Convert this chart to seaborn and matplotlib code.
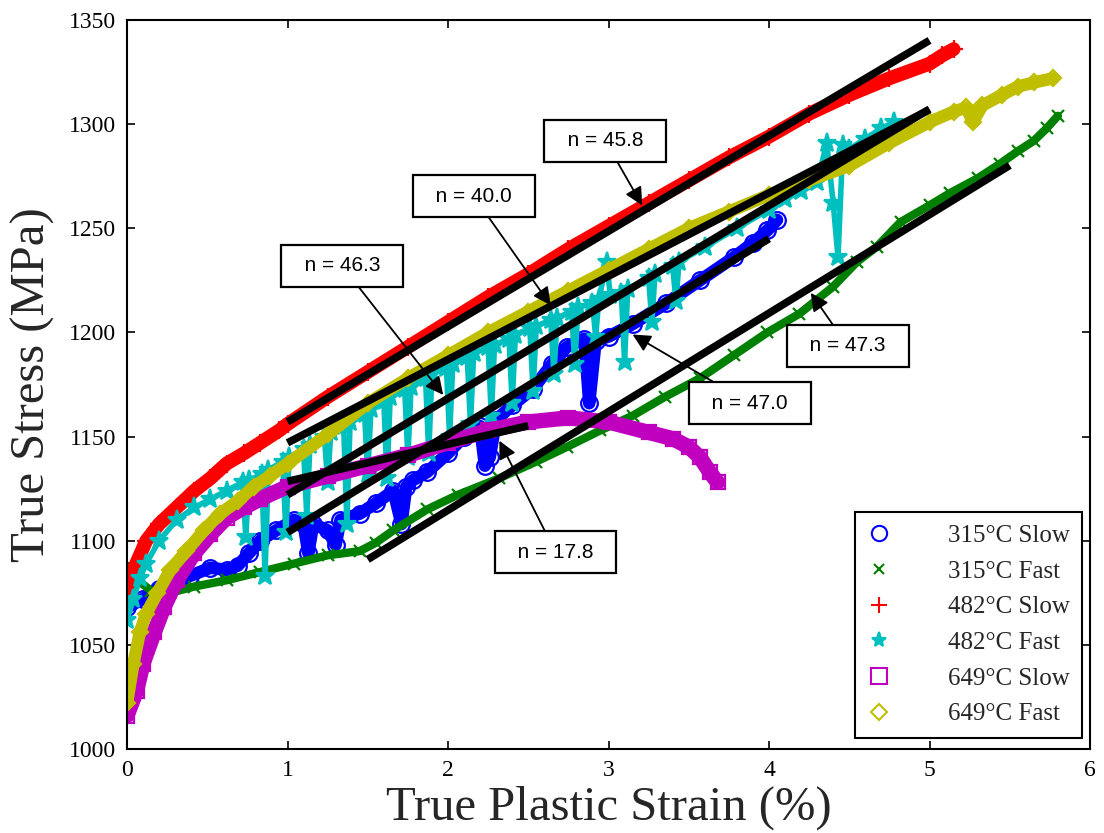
import matplotlib
matplotlib.use("Agg")
import matplotlib.pyplot as plt
from matplotlib.lines import Line2D
import numpy as np
import pandas as pd
import seaborn as sns

# ---------------------------------------------------------------------------
# Stress-strain data (true plastic strain in %, true stress in MPa)
# ---------------------------------------------------------------------------
s315_slow_x = [0.00, 0.10, 0.20, 0.30, 0.39, 0.52, 0.62, 0.69, 0.76, 0.83, 0.93, 1.04,
               1.10, 1.13, 1.16, 1.25, 1.30, 1.33, 1.45, 1.55, 1.66, 1.71, 1.74, 1.78,
               1.87, 2.00, 2.10, 2.20, 2.23, 2.26, 2.30, 2.40, 2.53, 2.65, 2.74, 2.85,
               2.88, 2.92, 3.00, 3.15, 3.36, 3.57, 3.78, 3.90, 3.99, 4.05]
s315_slow_y = [1068, 1072, 1077, 1080, 1083, 1087, 1086, 1088, 1094, 1100, 1105, 1110,
               1108, 1094, 1108, 1105, 1098, 1110, 1113, 1118, 1124, 1108, 1126, 1129,
               1133, 1142, 1150, 1155, 1136, 1140, 1158, 1165, 1173, 1185, 1193, 1197,
               1166, 1196, 1198, 1204, 1214, 1225, 1236, 1243, 1249, 1254]

s315_fast_x = [0.00, 0.05, 0.15, 0.27, 0.42, 0.62, 0.83, 1.04, 1.25, 1.45, 1.55, 1.66,
               1.87, 2.06, 2.32, 2.55, 2.74, 2.95, 3.15, 3.35, 3.57, 3.78, 3.99, 4.19,
               4.40, 4.55, 4.67, 4.82, 5.00, 5.13, 5.30, 5.44, 5.55, 5.65, 5.73, 5.80]
s315_fast_y = [1088, 1082, 1076, 1075, 1078, 1081, 1085, 1089, 1093, 1095, 1099, 1105,
               1115, 1122, 1130, 1138, 1145, 1153, 1160, 1169, 1178, 1189, 1200, 1209,
               1222, 1234, 1241, 1253, 1261, 1267, 1274, 1281, 1287, 1292, 1298, 1304]

s482_slow_x = [0.00, 0.04, 0.12, 0.20, 0.31, 0.42, 0.52, 0.62, 0.73, 0.83, 0.95, 1.00,
               1.25, 1.50, 1.75, 2.00, 2.25, 2.50, 2.75, 3.00, 3.25, 3.50, 3.75, 4.00,
               4.25, 4.50, 4.75, 5.00, 5.08, 5.15]
s482_slow_y = [1075, 1086, 1100, 1108, 1116, 1124, 1130, 1137, 1142, 1147, 1153, 1156,
               1169, 1181, 1193, 1205, 1217, 1228, 1240, 1251, 1262, 1273, 1284, 1294,
               1305, 1314, 1322, 1329, 1333, 1336]

s482_fast_x = [0.00, 0.04, 0.08, 0.12, 0.20, 0.31, 0.42, 0.52, 0.62, 0.72, 0.74, 0.76,
               0.84, 0.86, 0.88, 0.97, 0.99, 1.01, 1.10, 1.12, 1.14, 1.23, 1.25, 1.27,
               1.35, 1.37, 1.39, 1.48, 1.50, 1.52, 1.60, 1.62, 1.64, 1.73, 1.75, 1.77,
               1.86, 1.88, 1.90, 1.99, 2.01, 2.03, 2.12, 2.14, 2.16, 2.25, 2.27, 2.29,
               2.38, 2.40, 2.42, 2.51, 2.53, 2.55, 2.64, 2.66, 2.68, 2.77, 2.79, 2.81,
               2.90, 2.92, 2.94, 2.99, 3.01, 3.08, 3.10, 3.12, 3.25, 3.27, 3.29, 3.40,
               3.42, 3.44, 3.60, 3.80, 4.00, 4.10, 4.20, 4.30, 4.36, 4.40, 4.43, 4.46,
               4.50, 4.60, 4.70, 4.78]
s482_fast_y = [1062, 1072, 1082, 1089, 1100, 1110, 1116, 1120, 1124, 1128, 1102, 1129,
               1132, 1083, 1134, 1138, 1104, 1140, 1144, 1112, 1146, 1150, 1128, 1152,
               1155, 1108, 1157, 1161, 1132, 1163, 1167, 1130, 1169, 1173, 1140, 1174,
               1178, 1142, 1180, 1183, 1150, 1185, 1188, 1156, 1190, 1193, 1160, 1194,
               1197, 1166, 1199, 1202, 1172, 1203, 1206, 1180, 1207, 1210, 1185, 1212,
               1214, 1198, 1216, 1234, 1218, 1219, 1186, 1221, 1226, 1205, 1228, 1232,
               1215, 1234, 1241, 1250, 1259, 1264, 1268, 1272, 1291, 1262, 1236, 1290,
               1288, 1293, 1298, 1301]

s649_slow_x = [0.00, 0.06, 0.10, 0.17, 0.23, 0.31, 0.42, 0.52, 0.62, 0.73, 0.83, 1.00,
               1.25, 1.50, 1.75, 2.00, 2.25, 2.50, 2.75, 3.00, 3.25, 3.40, 3.50, 3.57,
               3.63, 3.68]
s649_slow_y = [1016, 1028, 1041, 1056, 1068, 1081, 1094, 1103, 1111, 1116, 1120, 1126,
               1131, 1136, 1141, 1147, 1153, 1157, 1159, 1157, 1152, 1149, 1145, 1140,
               1133, 1128]

s649_fast_x = [0.00, 0.04, 0.08, 0.12, 0.19, 0.27, 0.37, 0.48, 0.58, 0.69, 0.79, 0.89,
               1.00, 1.25, 1.50, 1.75, 2.00, 2.25, 2.50, 2.75, 3.00, 3.25, 3.50, 3.75,
               4.00, 4.25, 4.50, 4.75, 5.00, 5.15, 5.23, 5.27, 5.33, 5.45, 5.55, 5.65,
               5.77]
s649_fast_y = [1022, 1041, 1056, 1065, 1075, 1086, 1095, 1105, 1113, 1119, 1126, 1131,
               1137, 1151, 1166, 1178, 1189, 1200, 1210, 1220, 1230, 1240, 1250, 1258,
               1266, 1273, 1280, 1291, 1301, 1306, 1308, 1301, 1309, 1314, 1318, 1320,
               1322]

series_labels = ["315°C Slow", "315°C Fast", "482°C Slow",
                 "482°C Fast", "649°C Slow", "649°C Fast"]

# Linear hardening fits: strain range, stress at start, slope n (MPa per %)
fit_labels = ["482°C Slow", "649°C Fast", "482°C Fast",
              "315°C Slow", "649°C Slow", "315°C Fast"]
fit_x0 = [1.0, 1.0, 1.0, 1.0, 1.0, 1.5]
fit_x1 = [5.0, 5.0, 5.0, 4.0, 2.5, 5.5]
fit_y0 = [1157, 1147, 1122, 1104, 1128.5, 1091]
fit_n = [45.8, 40.0, 46.3, 47.0, 17.8, 47.3]

# Callouts: arrow tip (x, y) and box centre (x, y)
note_tip_x = [3.21, 2.64, 1.97, 3.15, 2.32, 4.26]
note_tip_y = [1261, 1213, 1170, 1199, 1148, 1219]
note_box_x = [2.98, 2.16, 1.34, 3.88, 2.67, 4.49]
note_box_y = [1292, 1265.5, 1232, 1166, 1094.5, 1193.5]

# ---------------------------------------------------------------------------
sns.set_theme(style="ticks")
plt.rcParams["font.family"] = ["Liberation Serif", "DejaVu Serif"]
plt.rcParams["axes.edgecolor"] = "black"
plt.rcParams["xtick.color"] = "black"
plt.rcParams["ytick.color"] = "black"

xs = [s315_slow_x, s315_fast_x, s482_slow_x, s482_fast_x, s649_slow_x, s649_fast_x]
ys = [s315_slow_y, s315_fast_y, s482_slow_y, s482_fast_y, s649_slow_y, s649_fast_y]
frames = []
for lab, x, y in zip(series_labels, xs, ys):
    frames.append(pd.DataFrame({"strain": x, "stress": y, "series": lab,
                                "idx": np.arange(len(x))}))
data = pd.concat(frames, ignore_index=True)

colors = {
    "315°C Slow": (0.0, 0.0, 1.0),
    "315°C Fast": (0.0, 0.5, 0.0),
    "482°C Slow": (1.0, 0.0, 0.0),
    "482°C Fast": (0.0, 0.75, 0.75),
    "649°C Slow": (0.75, 0.0, 0.75),
    "649°C Fast": (0.75, 0.75, 0.0),
}
markers = {
    "315°C Slow": "o", "315°C Fast": "x", "482°C Slow": "+",
    "482°C Fast": "*", "649°C Slow": "s", "649°C Fast": "D",
}
band_lw = {
    "315°C Slow": 9, "315°C Fast": 6, "482°C Slow": 10,
    "482°C Fast": 4, "649°C Slow": 11, "649°C Fast": 9,
}
marker_size = {
    "315°C Slow": 12, "315°C Fast": 9, "482°C Slow": 13,
    "482°C Fast": 14, "649°C Slow": 10, "649°C Fast": 8,
}
legend_size = {
    "315°C Slow": 11, "315°C Fast": 7, "482°C Slow": 12,
    "482°C Fast": 11, "649°C Slow": 11, "649°C Fast": 8,
}
hollow = {"o", "s", "D"}

fig = plt.figure(figsize=(11.04, 8.33), dpi=100)
ax = fig.add_axes([127 / 1104, 84 / 833, 963 / 1104, 729 / 833])

for lab in series_labels:
    sub = data[data["series"] == lab]
    c = colors[lab]
    m = markers[lab]
    sns.lineplot(data=sub, x="strain", y="stress", ax=ax, sort=False,
                 estimator=None, color=c, lw=band_lw[lab], legend=False,
                 marker=m, markersize=marker_size[lab],
                 markerfacecolor="none" if m in hollow else c,
                 markeredgecolor=c, markeredgewidth=1.6,
                 solid_capstyle="round", solid_joinstyle="round")

# Linear fits
for x0, x1, y0, n in zip(fit_x0, fit_x1, fit_y0, fit_n):
    fx = [x0, x1]
    fy = [y0, y0 + n * (x1 - x0)]
    sns.lineplot(x=fx, y=fy, ax=ax, color="black", lw=5.5, legend=False,
                 solid_capstyle="butt")

# Callouts stating the fitted slopes
for n, tx, ty, bx, by in zip(fit_n, note_tip_x, note_tip_y, note_box_x, note_box_y):
    ax.annotate(f"  n = {n:.1f}  ", xy=(tx, ty), xytext=(bx, by),
                ha="center", va="center", fontsize=15,
                family=["Liberation Sans", "DejaVu Sans"], color="black",
                bbox=dict(boxstyle="square,pad=0.55", fc="white", ec="black", lw=1.6),
                arrowprops=dict(arrowstyle="-|>", color="black", lw=1.3,
                                mutation_scale=27, shrinkA=0, shrinkB=0),
                zorder=10)

ax.set_xlim(0, 6)
ax.set_ylim(1000, 1350)
ax.set_xticks(range(0, 7))
ax.set_yticks(range(1000, 1351, 50))
ax.tick_params(direction="in", length=6, width=1.2, top=True, right=True,
               labelsize=17, pad=8)
for sp in ax.spines.values():
    sp.set_visible(True)
    sp.set_linewidth(1.5)
    sp.set_color("black")

ax.set_xlabel("True Plastic Strain (%)", fontsize=35, labelpad=3)
ax.set_ylabel("True Stress (MPa)", fontsize=35, labelpad=10)

handles = []
for lab in series_labels:
    c = colors[lab]
    m = markers[lab]
    handles.append(Line2D([], [], linestyle="none", marker=m, color=c,
                          markerfacecolor="none" if m in hollow else c,
                          markeredgecolor=c, markersize=legend_size[lab],
                          markeredgewidth=1.5))
leg = ax.legend(handles=handles, labels=series_labels, loc="lower right",
                bbox_to_anchor=((1082 - 127) / 963, (749 - 738) / 729),
                borderaxespad=0, fontsize=18, frameon=True, fancybox=False,
                handlelength=0.92, handletextpad=2.3, labelspacing=0.53,
                borderpad=0.5, edgecolor="black", framealpha=1)
leg.get_frame().set_linewidth(1.5)

fig.savefig("out.png", dpi=100, facecolor="white")
